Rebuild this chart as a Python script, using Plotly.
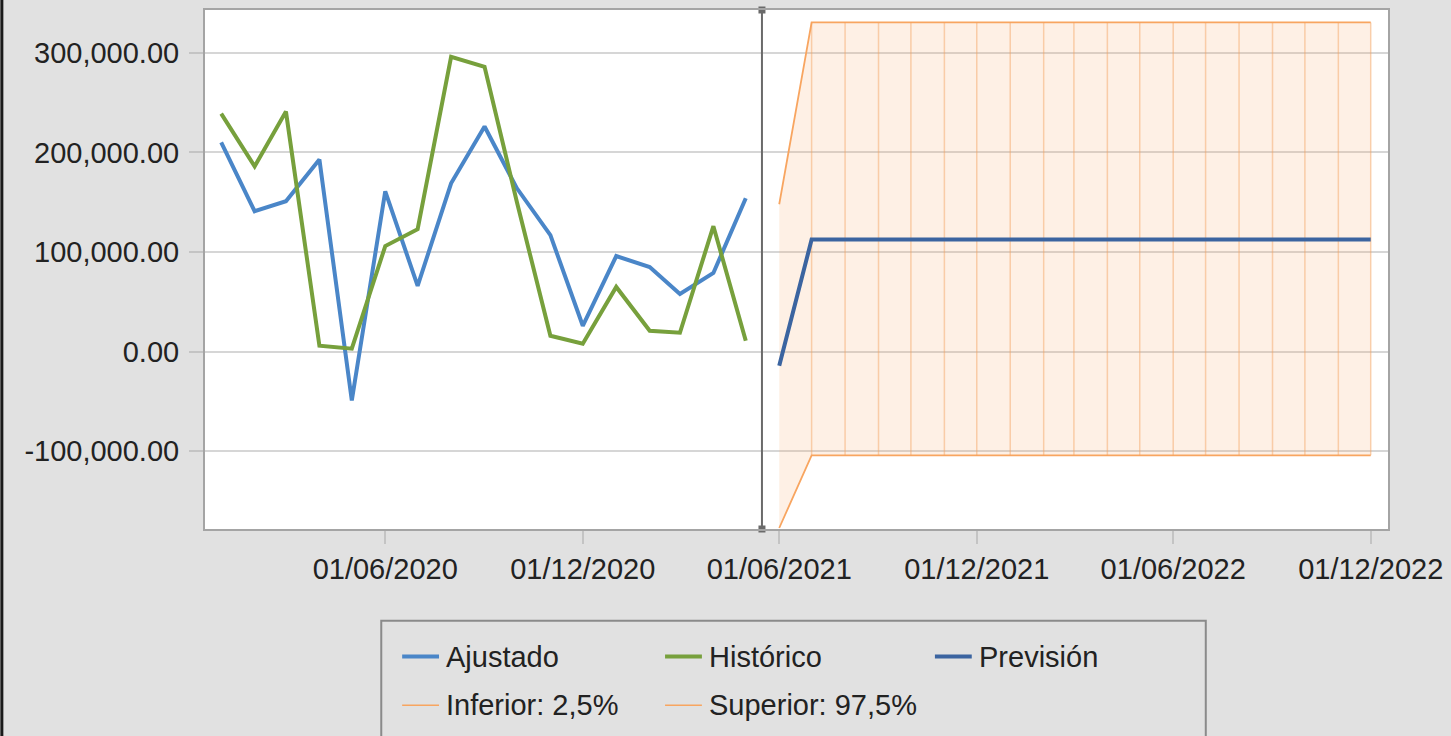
import plotly.graph_objects as go

# Monthly history (Jan 2020 - May 2021)
hist_dates = ['2020-01-01', '2020-02-01', '2020-03-01', '2020-04-01', '2020-05-01', '2020-06-01',
              '2020-07-01', '2020-08-01', '2020-09-01', '2020-10-01', '2020-11-01', '2020-12-01',
              '2021-01-01', '2021-02-01', '2021-03-01', '2021-04-01', '2021-05-01']
ajustado = [210000, 141000, 151000, 193000, -49000, 161000, 66000, 169000, 226000, 164000,
            117000, 26000, 96000, 85000, 58000, 79000, 154000]
historico = [239000, 186000, 241000, 6000, 3000, 106000, 123000, 296000, 286000, 150000,
             16000, 8000, 65000, 21000, 19000, 126000, 11000]

# Forecast (Jun 2021 - Dec 2022)
fc_dates = ['2021-06-01', '2021-07-01', '2021-08-01', '2021-09-01', '2021-10-01', '2021-11-01',
            '2021-12-01', '2022-01-01', '2022-02-01', '2022-03-01', '2022-04-01', '2022-05-01',
            '2022-06-01', '2022-07-01', '2022-08-01', '2022-09-01', '2022-10-01', '2022-11-01',
            '2022-12-01']
prevision = [-14000] + [112500] * 18
inferior = [-177000] + [-104000] * 18
superior = [148000] + [330500] * 18

split_date = '2021-05-16'

x_ticks = ['2020-06-01', '2020-12-01', '2021-06-01', '2021-12-01', '2022-06-01', '2022-12-01']
x_labels = ['01/06/2020', '01/12/2020', '01/06/2021', '01/12/2021', '01/06/2022', '01/12/2022']
y_ticks = [-100000, 0, 100000, 200000, 300000]
y_labels = ['-100,000.00', '0.00', '100,000.00', '200,000.00', '300,000.00']

y_range = [-178000, 343000]
x_range = ['2019-12-17', '2022-12-17']

ORANGE = '#f8a560'
BLUE = '#4a86c8'
GREEN = '#77a03c'
DARK_BLUE = '#3b64a0'
FONT = 'Liberation Sans, Arial, sans-serif'
FS = 29

fig = go.Figure()

# band: inferior + superior with fill
fig.add_trace(go.Scatter(x=fc_dates, y=inferior, mode='lines', name='Inferior: 2,5%',
                         line=dict(color=ORANGE, width=1.8)))
fig.add_trace(go.Scatter(x=fc_dates, y=superior, mode='lines', name='Superior: 97,5%',
                         fill='tonexty', fillcolor='rgba(250,170,110,0.18)',
                         line=dict(color=ORANGE, width=1.8)))

# vertical drop lines inside the band
vx, vy = [], []
for d, lo, hi in zip(fc_dates[1:], inferior[1:], superior[1:]):
    vx += [d, d, None]
    vy += [lo, hi, None]
fig.add_trace(go.Scatter(x=vx, y=vy, mode='lines', showlegend=False, hoverinfo='skip',
                         line=dict(color='rgba(245,160,90,0.45)', width=1.5)))

fig.add_trace(go.Scatter(x=hist_dates, y=ajustado, mode='lines', name='Ajustado',
                         line=dict(color=BLUE, width=4)))
fig.add_trace(go.Scatter(x=hist_dates, y=historico, mode='lines', name='Histórico',
                         line=dict(color=GREEN, width=4)))
fig.add_trace(go.Scatter(x=fc_dates, y=prevision, mode='lines', name='Previsión',
                         line=dict(color=DARK_BLUE, width=4)))

# separator between history and forecast
fig.add_trace(go.Scatter(x=[split_date, split_date], y=y_range, mode='lines+markers',
                         showlegend=False, hoverinfo='skip', cliponaxis=False,
                         line=dict(color='#6a6a6a', width=2),
                         marker=dict(symbol='square', size=7, color='#6a6a6a')))

W, H = 1451, 736
L, R, T, B = 205, 1393, 8, 529


def px(x):
    return (x - L) / (R - L)


def py(y):
    return (B - y) / (B - T)


shapes = [
    # legend box
    dict(type='rect', xref='paper', yref='paper', x0=px(382), x1=px(1210), y0=py(740), y1=py(621),
         line=dict(color='#8a8a8a', width=2), fillcolor='rgba(0,0,0,0)', layer='above'),
    # dark left edge of the window
    dict(type='line', xref='paper', yref='paper', x0=px(1), x1=px(1), y0=py(740), y1=py(-4),
         line=dict(color='#1a1a1a', width=3)),
]
annotations = []

legend_items = [
    ('Ajustado', BLUE, 4, 403, 657),
    ('Histórico', GREEN, 4, 667, 657),
    ('Previsión', DARK_BLUE, 4, 938, 657),
    ('Inferior: 2,5%', ORANGE, 1.5, 403, 706),
    ('Superior: 97,5%', ORANGE, 1.5, 667, 706),
]
for name, color, width, lx, ly in legend_items:
    shapes.append(dict(type='line', xref='paper', yref='paper', x0=px(lx), x1=px(lx + 37),
                       y0=py(ly), y1=py(ly), line=dict(color=color, width=width)))
    annotations.append(dict(text=name, xref='paper', yref='paper', x=px(lx + 42), y=py(ly),
                            xanchor='left', yanchor='middle', showarrow=False,
                            font=dict(family=FONT, size=FS, color='#222222')))

fig.update_layout(
    width=W, height=H,
    margin=dict(l=L, r=W - R, t=T, b=H - B),
    paper_bgcolor='#e1e1e1',
    plot_bgcolor='white',
    showlegend=False,
    font=dict(family=FONT, size=FS, color='#222222'),
    shapes=shapes,
    annotations=annotations,
)
fig.update_xaxes(type='date', range=x_range, tickvals=x_ticks, ticktext=x_labels,
                 showgrid=False, zeroline=False, ticks='outside', ticklen=13, tickwidth=1.5,
                 tickcolor='#c4c4c4', showline=True, mirror=True, linecolor='#a4a4a4',
                 linewidth=2)
fig.update_yaxes(range=y_range, tickvals=y_ticks, ticktext=y_labels, showgrid=True,
                 gridcolor='#d6d6d6', gridwidth=1.5, zeroline=False, ticks='outside',
                 ticklen=14, tickwidth=1.5, tickcolor='#c4c4c4', showline=True, mirror=True,
                 linecolor='#a4a4a4', linewidth=2, ticklabelstandoff=4)

# drop the browser's default body margin so the figure sits at the window corner
fig.write_html("out.html", config={'displayModeBar': False},
               post_script="document.body.style.margin='0';")
